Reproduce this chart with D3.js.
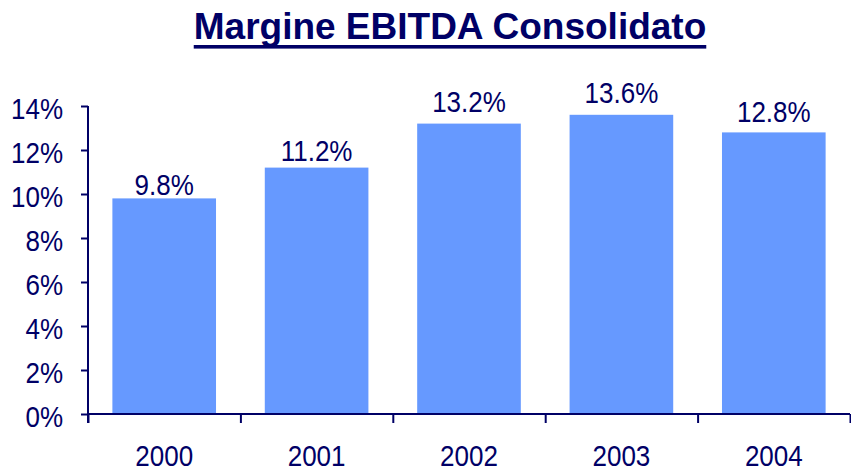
<!DOCTYPE html>
<html>
<head>
<meta charset="utf-8">
<script src="https://cdn.jsdelivr.net/npm/d3@7"></script>
<style>
  body { margin: 0; background: #fff; }
  svg { display: block; font-family: 'Liberation Sans', Arial, sans-serif; }
</style>
</head>
<body>
<div id="chart"></div>
<script>
const years = ['2000', '2001', '2002', '2003', '2004']
const margins = [9.8, 11.2, 13.2, 13.6, 12.8]
const yTicks = [0, 2, 4, 6, 8, 10, 12, 14]

const width = 851
const height = 471
const navy = '#000066'
const barColor = '#6699FF'
// text in the original looks a bit stretched vertically
const stretch = 1.13

const svg = d3
  .select('#chart')
  .append('svg')
  .attr('width', width)
  .attr('height', height)

const plot = { left: 88, right: 850, top: 106, bottom: 414 }

const xPositionScale = d3
  .scaleBand()
  .domain(years)
  .range([plot.left, plot.right])
  .paddingInner(0.32)
  .paddingOuter(0.16)

// category boundaries for the tick marks
const boundaryScale = d3
  .scaleLinear()
  .domain([0, years.length])
  .range([plot.left, plot.right])

const yPositionScale = d3
  .scaleLinear()
  .domain([0, 14])
  .range([plot.bottom, plot.top])

// the value labels sit on their own, slightly steeper scale
const labelScale = d3
  .scaleLinear()
  .domain([0, 14])
  .range([433, 93])

// title
const title = svg
  .append('text')
  .attr('x', 450)
  .attr('y', 39)
  .attr('text-anchor', 'middle')
  .attr('font-size', 37)
  .attr('font-weight', 'bold')
  .attr('fill', navy)
  .text('Margine EBITDA Consolidato')

const tb = title.node().getBBox()
svg
  .append('rect')
  .attr('x', tb.x)
  .attr('y', 45)
  .attr('width', tb.width)
  .attr('height', 3.6)
  .attr('fill', navy)

// bars
svg
  .selectAll('.bar')
  .data(years)
  .enter()
  .append('rect')
  .attr('class', 'bar')
  .attr('x', d => xPositionScale(d))
  .attr('width', xPositionScale.bandwidth())
  .attr('y', (d, i) => yPositionScale(margins[i]))
  .attr('height', (d, i) => plot.bottom - yPositionScale(margins[i]))
  .attr('fill', barColor)

// value labels
svg
  .selectAll('.value')
  .data(years)
  .enter()
  .append('g')
  .attr('class', 'value')
  .attr('transform', (d, i) => 'translate(' + (xPositionScale(d) + xPositionScale.bandwidth() / 2) + ',' + labelScale(margins[i]) + ')')
  .append('text')
  .attr('transform', 'scale(1,' + stretch + ')')
  .attr('text-anchor', 'middle')
  .attr('font-size', 26)
  .attr('fill', navy)
  .text((d, i) => margins[i].toFixed(1) + '%')

// y axis
const yAxis = d3
  .axisLeft(yPositionScale)
  .tickValues(yTicks)
  .tickSize(7)
  .tickPadding(18)
  .tickFormat(d => d + '%')

const yG = svg
  .append('g')
  .attr('class', 'axis y-axis')
  .attr('transform', 'translate(' + plot.left + ',0)')
  .call(yAxis)

yG.select('.domain').remove()
yG.selectAll('line').attr('stroke', navy).attr('stroke-width', 2)
yG.selectAll('text')
  .attr('font-family', null)
  .attr('font-size', 26)
  .attr('fill', navy)
  .attr('dy', '0.42em')
  .attr('transform', 'scale(1,' + stretch + ')')

yG.append('line')
  .attr('x1', 0)
  .attr('x2', 0)
  .attr('y1', plot.top)
  .attr('y2', plot.bottom + 9)
  .attr('stroke', navy)
  .attr('stroke-width', 2)

// x axis: boundary ticks
const xTickAxis = d3
  .axisBottom(boundaryScale)
  .ticks(years.length)
  .tickSize(9)
  .tickFormat('')

const xG = svg
  .append('g')
  .attr('class', 'axis x-axis')
  .attr('transform', 'translate(0,' + plot.bottom + ')')
  .call(xTickAxis)

xG.select('.domain').remove()
xG.selectAll('line').attr('stroke', navy).attr('stroke-width', 2)
xG.append('line')
  .attr('x1', plot.left)
  .attr('x2', plot.right)
  .attr('stroke', navy)
  .attr('stroke-width', 2)

// x axis: category labels
const xLabelAxis = d3.axisBottom(xPositionScale).tickSize(0)

const xL = svg
  .append('g')
  .attr('class', 'axis x-labels')
  .attr('transform', 'translate(0,' + plot.bottom + ')')
  .call(xLabelAxis)

xL.select('.domain').remove()
xL.selectAll('text')
  .attr('font-family', null)
  .attr('font-size', 26)
  .attr('fill', navy)
  .attr('y', 52 / stretch)
  .attr('dy', 0)
  .attr('transform', 'scale(1,' + stretch + ')')
</script>
</body>
</html>
